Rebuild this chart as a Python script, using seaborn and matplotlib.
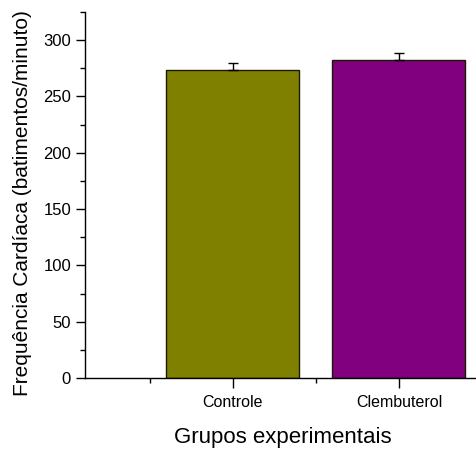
import matplotlib
matplotlib.use("Agg")
import matplotlib.pyplot as plt
from matplotlib.ticker import MultipleLocator, FixedLocator
import seaborn as sns
import pandas as pd

# Heart rate per experimental group (mean and upper error)
groups = ["Controle", "Clembuterol"]
heart_rate = [273.5, 282.0]
heart_rate_err = [6.5, 6.5]
bar_colors = ["#808000", "#800080"]

sns.set_theme(style="ticks")
plt.rcParams["font.family"] = ["Liberation Sans", "DejaVu Sans"]

df = pd.DataFrame({"grupo": groups, "fc": heart_rate})

fig = plt.figure(figsize=(4.76, 4.49), dpi=100)
ax = fig.add_axes([85 / 476, 71 / 449, 1 - 85 / 476, (378 - 12) / 449])

sns.barplot(data=df, x="grupo", y="fc", hue="grupo", palette=bar_colors,
            order=groups, hue_order=groups, legend=False, width=0.8,
            edgecolor="#1a1a00", linewidth=1.0, ax=ax, errorbar=None,
            saturation=1)

# upper-only error bars
ax.errorbar(range(len(groups)), heart_rate,
            yerr=[[0] * len(groups), heart_rate_err],
            fmt="none", ecolor="black", elinewidth=1.0, capsize=3.3,
            capthick=1.0, zorder=5)

ax.set_xlim(-0.89, 1.464)
ax.set_ylim(0, 325)
ax.yaxis.set_major_locator(MultipleLocator(50))
ax.yaxis.set_minor_locator(FixedLocator([25, 75, 125, 175, 225, 275, 325]))
ax.xaxis.set_minor_locator(FixedLocator([-0.5, 0.5, 1.5]))

for side in ["top", "right"]:
    ax.spines[side].set_visible(False)
for side in ["left", "bottom"]:
    ax.spines[side].set_linewidth(1.0)
    ax.spines[side].set_color("black")

ax.tick_params(axis="y", which="major", direction="out", length=6.5, width=1.0,
               labelsize=12, pad=3.5, colors="black")
ax.tick_params(axis="y", which="minor", direction="out", length=3.5, width=1.0,
               colors="black")
ax.tick_params(axis="x", which="major", direction="out", length=7, width=1.0,
               labelsize=11.5, pad=5, colors="black")
ax.tick_params(axis="x", which="minor", direction="out", length=3.5, width=1.0,
               colors="black")

ax.set_xlabel("Grupos experimentais", fontsize=16, color="black")
ax.set_ylabel("Frequência Cardíaca (batimentos/minuto)", fontsize=15,
              color="black")
ax.xaxis.set_label_coords(0.505, -0.134)
ax.yaxis.set_label_coords(-0.136, 0.478)

fig.savefig("out.png", dpi=100)
